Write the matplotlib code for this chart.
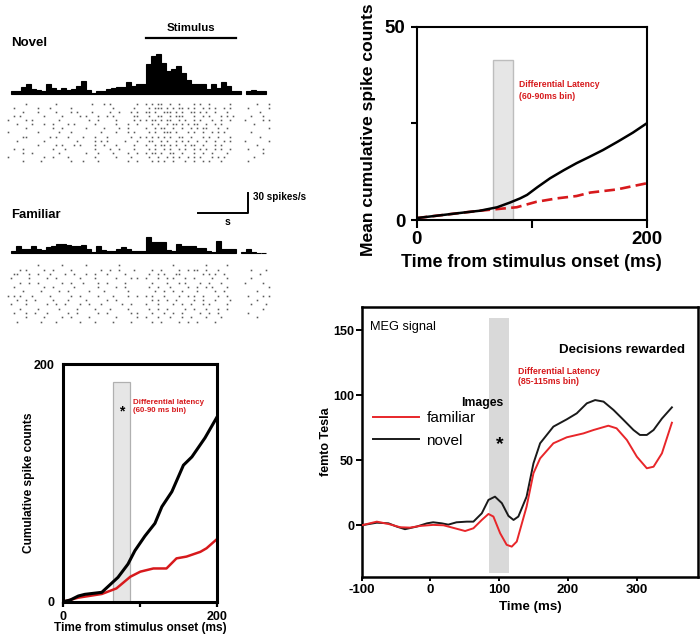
import numpy as np
import matplotlib
matplotlib.use('Agg')
import matplotlib.pyplot as plt

plt.rcParams['font.family'] = ['Liberation Sans', 'DejaVu Sans']
plt.rcParams['axes.unicode_minus'] = False

W, H = 700, 635

# ---- PSTHs (spikes/s), 100 ms bins from -2.7 s, nan = gap in recording
bin_start = -2.7
bin_width = 0.1
novel_rate = [5, 5, 10, 14, 8, 6, 4, 15, 9, 6, 9, 6, 7, 12, 19, 6, 1.5, 4, 5, 7,
              9, 10, 10, 18, 12, 14, 14, 43, 55, 58, 45, 34, 36, 40, 30, 21, 15, 15,
              15, 7, 15, 9, 18, 11, 5, 5, np.nan, 5, 6, 5, 5]
familiar_rate = [3, 11, 6, 7, 10, 7, 5, 9, 10, 14, 14, 12, 11, 10, 12, 6, 2.5, 11, 5,
                 3, 4, 6, 9, 6, 4, 3, 3, 23, 17, 17, 17, 5, 3, 14, 11, 10, 10, 8, 8,
                 4, 1.5, 18, 7, 6, 6, np.nan, 2.5, 6, 2.5, 0.5, 0.5]
stim_on, stim_off = 0.0, 1.8
scale_s, scale_rate = 1.0, 30

# ---- rasters: one string per trial, 'x' = spike, 60 ms per character
# segments: pre-stimulus | stimulus | post
raster_start = -2.76
raster_step = 0.06
novel_raster = [
    "......x.........x...........x...x.x........x..|x.x.xx..x..x....x.x..x......x|....x...x",
    "..x.......x...x......x.............x......x...|.x.xxx.x.x.xx.x.x..x.x.x..x.x.|.x......x",
    ".....x....x.....x....x.x....x.....x..x...x.x..|xx.x..xxx.x.x..xx.x.x..x...x..|.....x...",
    "..x.x.......x.....x.....x.x...x..x.x......xx..|.x..xx..x.xxx...x..x.x...x.x.x|..x...x..",
    "x.....x.x........x.........x..x.....x.....x.x.|x.xx.x.xx..x.x..x.x...x..x..x.|x.....x.x",
    "...x....x...x..x....x.x......x......x...x..x..|..x.x..x.xx.x.x.xx..x..x.x....|...x.....",
    "......x........x..x.......x.....x....x..x.....|x..x.xx..x..x..x.x.xx...x..x..|........x",
    "x.........x......x...x.........x....x...x.x...|.x.x..xxx.x...x.x..x..x.x.x...|..x......",
    ".....xx.......x.x...x....x...x...x.......x..x.|x.x.x.x.x..xx..x...x.x..x...x.|.....x...",
    "...x........x..........x.....x.x.x.....x...x..|.xx..x.x..x.x.x..x..x..x..x.x.|x.......x",
    "..........x.....x.x...x.x....x..x...x.....x...|x..x.xx.x.x..x.xx..x...x.x....|....x....",
    "..x..x.........x...x.........x....x..x....x...|.x.x..x.x..x.x..x.x.x..x.x..x.|.x....x..",
    ".....x..x........x........x...x....x....x..x..|x.xx.x..xx..x...x..x..x....x..|......x..",
    "x...........x..x....x........x......x....x....|.x..x..x.x.x..x.x.x...x.x.x...|...x.....",
    ".....x.....x.........x...x....x.........x..x..|..x.x.x..x...x..x..x.x...x....|.x.......",
]
familiar_raster = [
    "..........x.......x.......x..........x.......|.........x..........x......x.|.........",
    "....x.x.....x..x.....x.........x..x..x....x..|..x..x.....x..x.xx..x...x....|..x....x.",
    "..xx...x..x...x....x..x...x..x...x.....x.....|.x..x.x...xx.......x.x.x..x..|.....x...",
    ".x.....x.....x..x.......x....x......x....x.x.|x...x..x.x...x..x.....x....x.|..x......",
    "....x..x..x.......x..x...x....x..x.....x.....|..x....x...x.x....x..x...x...|x.....x..",
    "..x.........x..x......x.......x.....x..x.....|.x..x...x.....x..x..x.x....x.|........x",
    ".....x.....x.....x..x......x....x.......x....|...x..x..x..x....x.....x..x..|....x....",
    "x.x.x...x.....x......x..x.....x....x....x..x.|x.x...x....x..x.x..x....x..x.|.x....x.x",
    "...x..x..x.....x....x.....x......x..x........|..x.x..x..x.....x..x...x....x|....x....",
    ".x....x......x..x..x....x..x...x......x..x...|x...x....x..x..x...x.x.....x.|..x....x.",
    "....x.....x......x.....x.....x....x.....x....|.x..x..x.....x..x...x...x..x.|......x..",
    "..x...x..x...x......x..x......x..x.......x.x.|..x...x..x..x.....x..x..x....|.x.......",
    "......x.....x.....x..x.....x........x......x.|x...x...x...x..x....x....x...|....x....",
    "...x.......x....x.......x....x.....x.....x...|..x..x.....x..x..x.....x.....|.........",
]

# ---- single cell cumulative spike counts (bottom left)
cell_t_novel = [0, 9, 19.5, 28, 50, 58, 71, 84, 93, 106, 119, 128, 141, 156, 167, 184, 200]
cell_novel = [0, 1.4, 4.8, 6.2, 7.9, 12.7, 20.5, 31.7, 43, 55.3, 66, 80, 92.7, 115, 122, 138, 156]
cell_t_fam = [0, 19.5, 50, 69, 87, 100, 117, 134, 147, 160, 178, 186, 200]
cell_fam = [0, 3.4, 6.5, 11.2, 21, 25.3, 28, 28, 36.5, 38, 42, 45, 53]
cell_band = (65, 86.5, 185)

# ---- population mean cumulative spike counts (top right)
pop_t_novel = [0, 20, 40, 55, 70, 81, 90, 96, 105, 116, 128, 139, 150, 162, 175, 188, 200]
pop_novel = [0.5, 1.2, 1.9, 2.4, 3.3, 4.5, 5.6, 6.5, 8.5, 10.8, 12.9, 14.7, 16.3, 18.1, 20.3, 22.6, 25.0]
pop_t_fam = [0, 20, 40, 55, 69, 87, 104, 122, 139, 151, 174, 200]
pop_fam = [0.5, 1.2, 1.9, 2.4, 2.8, 3.3, 4.7, 5.6, 6.2, 7.1, 7.9, 9.5]
pop_band = (66, 84, 41.3)

# ---- MEG signal (femto Tesla)
meg_t_novel = [-100, -78, -61, -49, -37, -20, -5, 4, 16.5, 26, 38, 53, 62.6, 74.8, 84.5, 94,
               104, 113.6, 121, 128, 140, 150, 159.7, 179, 198.5, 213, 227.7, 239.8, 252,
               266.5, 281, 295.6, 305, 315, 324.8, 337, 351.5]
meg_novel = [0, 2, 1.5, -1, -3, -1, 1.5, 2.3, 1.5, 0.5, 2.3, 2.8, 2.8, 9.2, 19.5, 22,
             17, 7.2, 4.1, 6.7, 22, 47.6, 63, 75.8, 81.4, 86, 93.7, 96.2, 95,
             88.6, 81, 73.2, 69.4, 69.4, 73.2, 82, 90.6]
meg_t_fam = [-100, -78, -61, -44, -29.6, -15, 4, 19, 33.5, 50.5, 62.6, 74.8, 84.5, 91.7,
             101.5, 111, 118.4, 125.7, 140, 150, 159.7, 179, 198.5, 222.8, 237.4, 259, 271,
             286, 300.5, 315, 324.8, 337, 351.5]
meg_fam = [0, 2.8, 1, -1.5, -1.8, -0.5, 0.3, 0, -2, -4.4, -2.3, 4.1, 8.7, 6.7,
           -6.1, -15, -16.4, -12.5, 14.3, 40, 51.4, 63, 67.6, 70.6, 73.2, 76.5, 74.5,
           65.5, 52.7, 43.8, 45, 55.3, 78.8]
meg_band = (85, 115)

RED = '#d7191c'


def px_axes(fig, left, top, right, bottom):
    # axes placed by pixel edges of the 700x635 canvas
    return fig.add_axes([left / W, 1 - bottom / H, (right - left) / W, (bottom - top) / H])


def draw_psth(ax, rates):
    r = np.array(rates, float)
    t = bin_start + bin_width * np.arange(len(r))
    ok = ~np.isnan(r)
    ax.bar(t[ok], r[ok], width=bin_width, align='edge', color='black',
           edgecolor='black', linewidth=0.8)
    ax.set_xlim(-2.8, 2.6)
    ax.set_ylim(-3, 65)
    ax.axis('off')


def raster_times(row):
    pre, stim, post = row.split('|')
    s = pre[:46].ljust(46, '.') + stim[:31].ljust(31, '.') + '..' + post
    return [raster_start + raster_step * i for i, c in enumerate(s) if c == 'x']


def draw_raster(ax, rows):
    for k, row in enumerate(rows):
        ts = raster_times(row)
        ax.plot(ts, [k] * len(ts), 's', ms=1.15, color='#595959', mew=0)
    ax.set_xlim(-2.8, 2.6)
    ax.set_ylim(len(rows) - 0.5, -0.5)
    ax.axis('off')


def bold_ticks(ax):
    for lab in ax.get_xticklabels() + ax.get_yticklabels():
        lab.set_fontweight('bold')


def main():
    fig = plt.figure(figsize=(7, 6.35), dpi=100)

    # ---------- Novel PSTH + raster
    ax_n = px_axes(fig, 6, 49.2, 276, 96.1)
    draw_psth(ax_n, novel_rate)
    ax_n.plot([stim_on, stim_off], [81, 81], color='black', lw=1.6, clip_on=False)
    ax_n.text((stim_on + stim_off) / 2, 95.5, 'Stimulus', ha='center', va='center',
              fontsize=8.2, fontweight='bold')
    ax_nr = px_axes(fig, 6, 102, 276, 163)
    draw_raster(ax_nr, novel_raster)
    fig.text(11 / W, 1 - 42.5 / H, 'Novel', fontsize=9.5, fontweight='bold', va='center')

    # ---------- Familiar PSTH + raster
    ax_f = px_axes(fig, 6, 208.5, 276, 255.4)
    draw_psth(ax_f, familiar_rate)
    x0 = 2.04 - scale_s
    ax_f.plot([x0, x0 + scale_s, x0 + scale_s], [58, 58, 58 + scale_rate],
              color='black', lw=1.4, clip_on=False)
    ax_f.text(x0 + scale_s + 0.1, 81.7, '30 spikes/s', fontsize=7.1, fontweight='bold',
              va='center')
    ax_f.text(x0 + 0.58, 45, 's', fontsize=7.5, fontweight='bold', ha='center', va='center')
    ax_fr = px_axes(fig, 6, 263, 276, 324)
    draw_raster(ax_fr, familiar_raster)
    fig.text(11.5 / W, 1 - 215 / H, 'Familiar', fontsize=9.4, fontweight='bold', va='center')

    # ---------- population cumulative counts (top right)
    ax = px_axes(fig, 416.7, 26.7, 646.7, 220)
    ax.bar(pop_band[0], pop_band[2], width=pop_band[1] - pop_band[0], align='edge',
           color='#e6e6e6', edgecolor='#bdbdbd', linewidth=1.0, zorder=1)
    ax.plot(pop_t_fam, pop_fam, color=RED, lw=1.9, dashes=(4, 2), zorder=2)
    ax.plot(pop_t_novel, pop_novel, color='black', lw=1.8, zorder=3)
    ax.text(88.7, 36.2, 'Differential Latency\n(60-90ms bin)', color=RED, fontsize=6.2,
            fontweight='bold', va='top', linespacing=1.45)
    ax.set_xlim(0, 200)
    ax.set_ylim(0, 50)
    ax.set_xticks([0, 100, 200])
    ax.set_xticklabels(['0', '', '200'])
    ax.set_yticks([0, 25, 50])
    ax.set_yticklabels(['0', '', '50'])
    ax.tick_params(axis='x', direction='out', length=6, width=1.5, labelsize=13.5, pad=2)
    ax.tick_params(axis='y', direction='out', length=4, width=1.5, labelsize=13.5, pad=4)
    bold_ticks(ax)
    for s in ax.spines.values():
        s.set_linewidth(1.5)
    ax.set_ylabel('Mean cumulative spike counts', fontsize=12.6, fontweight='bold')
    ax.yaxis.set_label_coords(-0.178, 0.465)
    ax.set_xlabel('Time from stimulus onset (ms)', fontsize=12.9, fontweight='bold')
    ax.xaxis.set_label_coords(0.5, -0.175)

    # ---------- single cell cumulative counts (bottom left)
    ax = px_axes(fig, 63.3, 364.3, 217.3, 601.7)
    ax.bar(cell_band[0], cell_band[2], width=cell_band[1] - cell_band[0], align='edge',
           color='#e6e6e6', edgecolor='#b0b0b0', linewidth=0.9, zorder=1)
    ax.plot(cell_t_fam, cell_fam, color=RED, lw=1.8, zorder=2)
    ax.plot(cell_t_novel, cell_novel, color='black', lw=2.2, zorder=3)
    ax.text((cell_band[0] + cell_band[1]) / 2, 160, '*', fontsize=10, fontweight='bold',
            ha='center', va='center')
    ax.text(90, 170.5, 'Differential latency\n(60-90 ms bin)', color=RED, fontsize=5.7,
            fontweight='bold', va='top', linespacing=1.05)
    ax.set_xlim(0, 200)
    ax.set_ylim(0, 200)
    ax.set_xticks([0, 100, 200])
    ax.set_xticklabels(['0', '', '200'])
    ax.set_yticks([0, 200])
    ax.tick_params(axis='x', direction='out', length=3.6, width=1.6, labelsize=9, pad=3)
    ax.tick_params(axis='y', length=0, labelsize=9, pad=6)
    bold_ticks(ax)
    for s in ax.spines.values():
        s.set_linewidth(2.2)
    ax.set_ylabel('Cumulative spike counts', fontsize=8.6, fontweight='bold')
    ax.yaxis.set_label_coords(-0.184, 0.5)
    ax.set_xlabel('Time from stimulus onset (ms)', fontsize=8.6, fontweight='bold')
    ax.xaxis.set_label_coords(0.5, -0.085)

    # ---------- MEG (bottom right)
    ax = px_axes(fig, 361.7, 307, 698, 576.7)
    ax.axvspan(meg_band[0], meg_band[1], ymin=0.015, ymax=0.96, color='#d9d9d9', lw=0, zorder=1)
    l_nov, = ax.plot(meg_t_novel, meg_novel, color='#1a1a1a', lw=1.4, zorder=3)
    l_fam, = ax.plot(meg_t_fam, meg_fam, color='#e8262a', lw=1.4, zorder=3)
    ax.legend([l_fam, l_nov], ['familiar', 'novel'], loc='upper left',
              bbox_to_anchor=(0.033, 0.614), frameon=False, fontsize=11,
              handlelength=3.05, handletextpad=0.45, labelspacing=0.55,
              borderpad=0, borderaxespad=0)
    ax.text(-87.5, 152, 'MEG signal', fontsize=9.2, va='center')
    ax.text(370.5, 134.6, 'Decisions rewarded', fontsize=9.6, fontweight='bold',
            ha='right', va='center')
    ax.text(128, 121.6, 'Differential Latency\n(85-115ms bin)', color=RED, fontsize=6.3,
            fontweight='bold', va='top', linespacing=1.2)
    ax.text(76, 94.2, 'Images', fontsize=8.8, fontweight='bold', ha='center', va='center')
    ax.text(101, 62, '*', fontsize=14, fontweight='bold', ha='center', va='center')
    ax.set_xlim(-100, 389.5)
    ax.set_ylim(-39.5, 167.7)
    ax.set_xticks([-100, 0, 100, 200, 300])
    ax.set_yticks([0, 50, 100, 150])
    ax.tick_params(axis='x', direction='out', length=3, width=1.4, labelsize=9.5, pad=2)
    ax.tick_params(axis='y', direction='out', length=4, width=1.4, labelsize=9, pad=1.5)
    bold_ticks(ax)
    for s in ax.spines.values():
        s.set_linewidth(1.8)
    ax.set_ylabel('femto Tesla', fontsize=9, fontweight='bold')
    ax.yaxis.set_label_coords(-0.089, 0.5)
    ax.set_xlabel('Time (ms)', fontsize=9.6, fontweight='bold')
    ax.xaxis.set_label_coords(0.5, -0.089)

    fig.savefig('out.png', dpi=100)


if __name__ == "__main__":
    main()
